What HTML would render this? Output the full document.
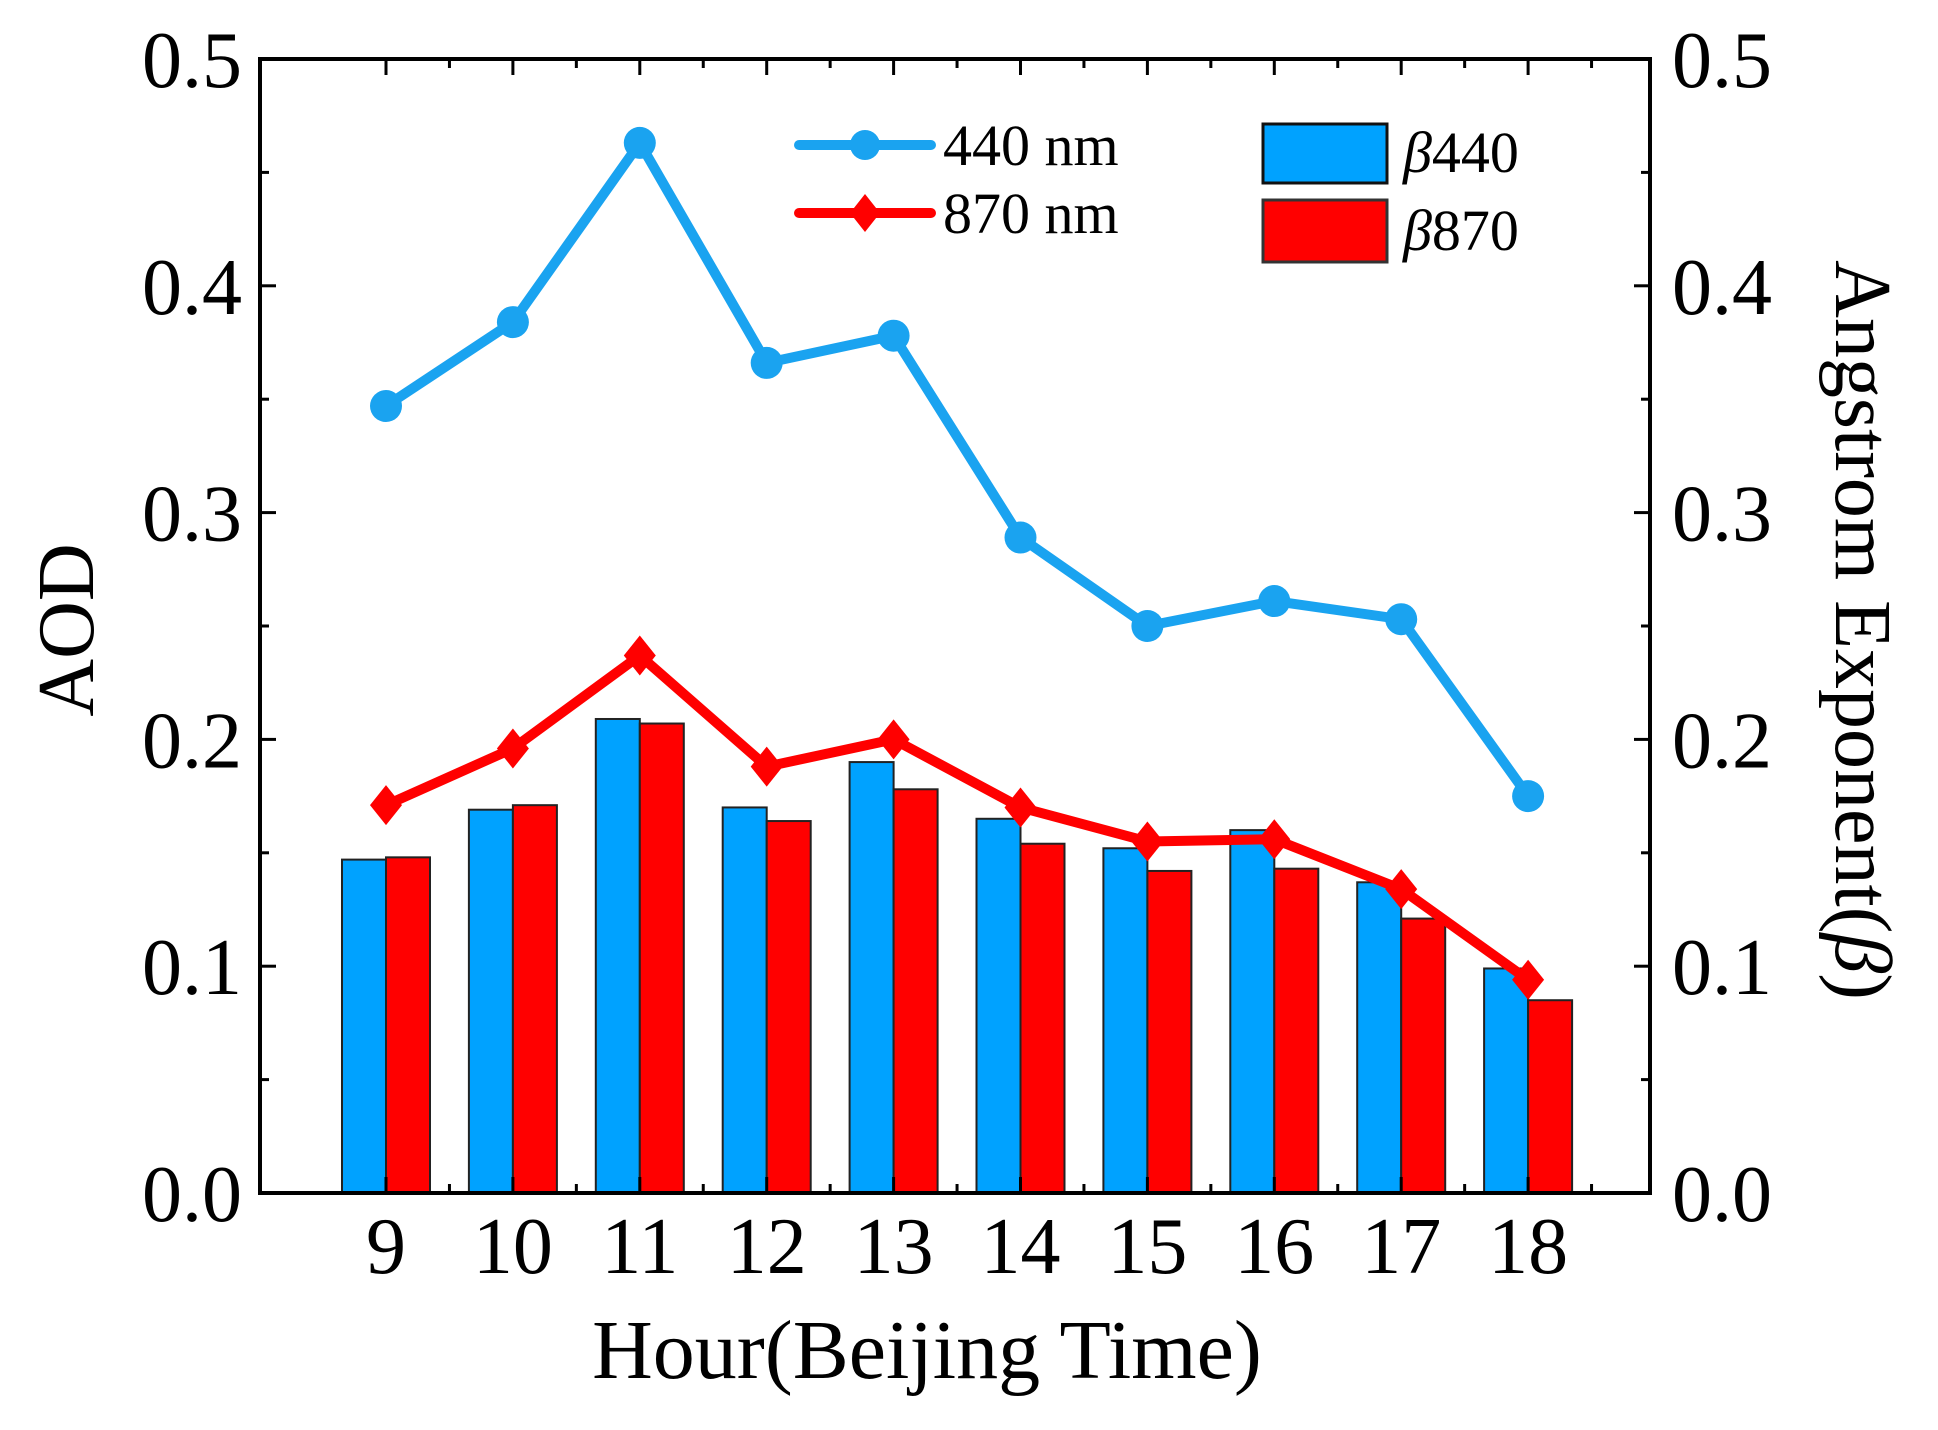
<!DOCTYPE html>
<html><head><meta charset="utf-8"><style>
html,body{margin:0;padding:0;background:#fff;}
svg{display:block;font-family:"Liberation Serif",serif;}
</style></head><body>
<svg width="1938" height="1430" viewBox="0 0 1938 1430" xmlns="http://www.w3.org/2000/svg">
<g id="bars" stroke="#222" stroke-width="2"></g>
<g id="lines"></g>
<rect x="260" y="59" width="1390" height="1134" fill="none" stroke="#000" stroke-width="4"/>
<g id="ticks" stroke="#000" stroke-width="3"></g>
<g font-size="80" fill="#000">
<g text-anchor="end" id="yl"></g>
<g text-anchor="start" id="yr"></g>
<g text-anchor="middle" id="xl"></g>
<text x="927" y="1378" text-anchor="middle" font-size="84">Hour(Beijing Time)</text>
<text transform="translate(93,630) rotate(-90)" text-anchor="middle">AOD</text>
<text transform="translate(1836,630) rotate(90)" text-anchor="middle">Angstrom Exponent(<tspan font-style="italic">β</tspan>)</text>
</g>
<g font-size="58">
<line x1="799" y1="145" x2="931" y2="145" stroke="#1aa3f0" stroke-width="10" stroke-linecap="round"/>
<circle cx="865" cy="145" r="15" fill="#1aa3f0"/>
<line x1="799" y1="213" x2="931" y2="213" stroke="#ff0000" stroke-width="10" stroke-linecap="round"/>
<polygon points="865,194 880,213 865,232 850,213" fill="#ff0000"/>
<text x="943" y="165">440 nm</text>
<text x="943" y="233">870 nm</text>
<rect x="1263" y="124" width="124" height="59" fill="#00a2ff" stroke="#111" stroke-width="3"/>
<rect x="1263" y="200" width="124" height="62" fill="#ff0000" stroke="#333" stroke-width="3"/>
<text x="1403" y="172"><tspan font-style="italic">β</tspan>440</text>
<text x="1403" y="250"><tspan font-style="italic">β</tspan>870</text>
</g>
<script>
var ns="http://www.w3.org/2000/svg";
function X(h){return 386+(h-9)*126.9;}
function Y(v){return 1193-v*2268;}
var bl=[0.347,0.384,0.463,0.366,0.378,0.289,0.250,0.261,0.253,0.175];
var rl=[0.171,0.196,0.237,0.188,0.200,0.170,0.155,0.156,0.134,0.094];
var bb=[0.147,0.169,0.209,0.170,0.190,0.165,0.152,0.160,0.137,0.099];
var rb=[0.148,0.171,0.207,0.164,0.178,0.154,0.142,0.143,0.121,0.085];
function el(t,a,p){var e=document.createElementNS(ns,t);for(var k in a)e.setAttribute(k,a[k]);p.appendChild(e);return e;}
var B=document.getElementById('bars');
for(var i=0;i<10;i++){var c=X(9+i);
el('rect',{x:c-44,y:Y(bb[i]),width:44,height:1193-Y(bb[i]),fill:'#00a2ff'},B);
el('rect',{x:c,y:Y(rb[i]),width:44,height:1193-Y(rb[i]),fill:'#ff0000'},B);}
var L=document.getElementById('lines');
function line(d,col){var p=d.map(function(v,i){return X(9+i)+','+Y(v);}).join(' ');
el('polyline',{points:p,fill:'none',stroke:col,'stroke-width':10,'stroke-linejoin':'round'},L);}
line(bl,'#1aa3f0');line(rl,'#ff0000');
for(var i=0;i<10;i++){var x=X(9+i);
el('circle',{cx:x,cy:Y(bl[i]),r:16,fill:'#1aa3f0'},L);
var y=Y(rl[i]);el('polygon',{points:x+','+(y-20)+' '+(x+16)+','+y+' '+x+','+(y+20)+' '+(x-16)+','+y,fill:'#ff0000'},L);}
var T=document.getElementById('ticks');
for(var k=0;k<=10;k++){var y=1193-k*113.4;var len=(k%2==0)?16:9;
el('line',{x1:260,y1:y,x2:260+len,y2:y},T);el('line',{x1:1650,y1:y,x2:1650-len,y2:y},T);}
for(var h=8;h<=19;h++){var x=X(h);if(x<260||x>1650)continue;
el('line',{x1:x,y1:1193,x2:x,y2:1177},T);el('line',{x1:x,y1:59,x2:x,y2:75},T);
var xm=x+63.45;if(xm<1650){el('line',{x1:xm,y1:1193,x2:xm,y2:1184},T);el('line',{x1:xm,y1:59,x2:xm,y2:68},T);}}
var yl=document.getElementById('yl'),yr=document.getElementById('yr'),xl=document.getElementById('xl');
for(var k=0;k<=5;k++){var y=1193-k*226.8+28;var s=(k/10).toFixed(1);
el('text',{x:242,y:y},yl).textContent=s;el('text',{x:1672,y:y},yr).textContent=s;}
for(var h=9;h<=18;h++){el('text',{x:X(h),y:1273},xl).textContent=h;}
</script>
</svg>
</body></html>
